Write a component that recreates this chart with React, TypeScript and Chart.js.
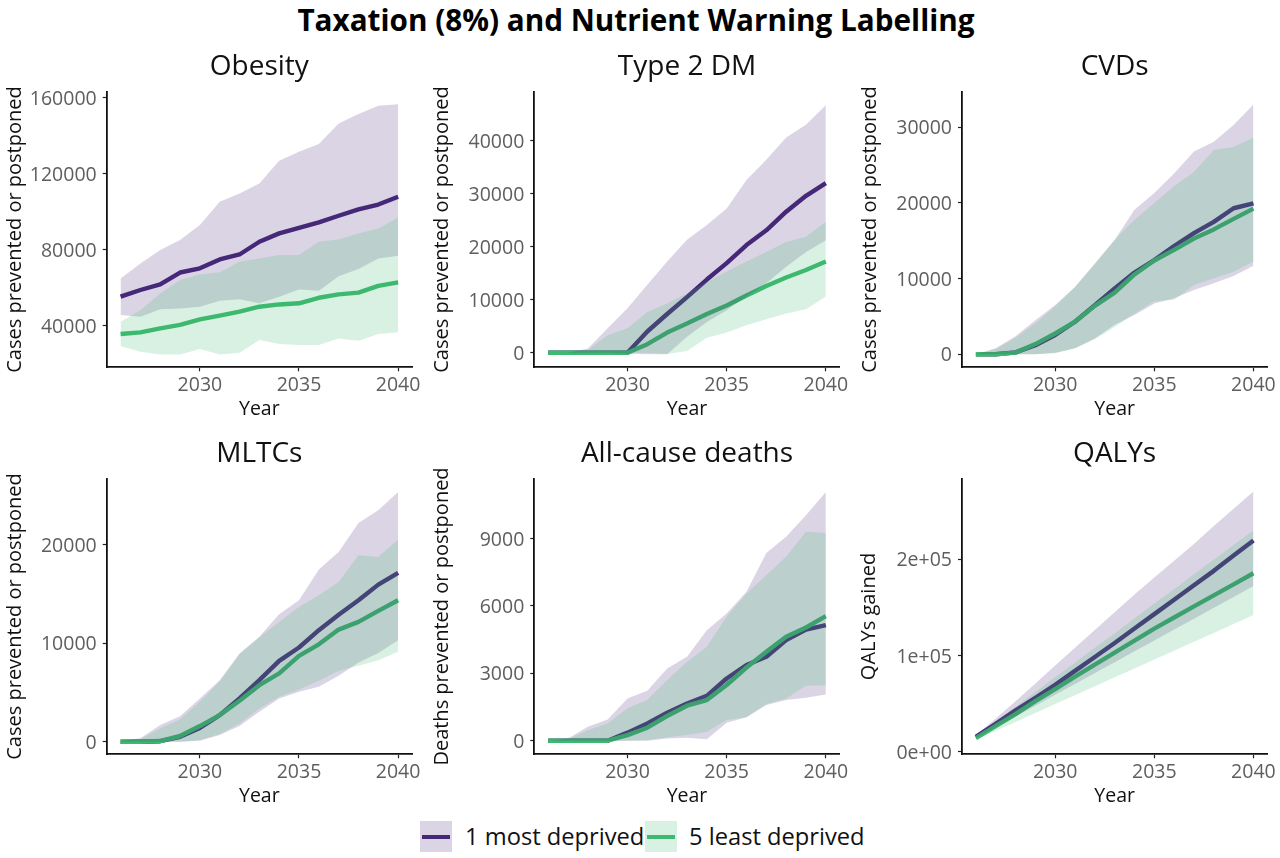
import { useEffect, useRef } from 'react';
import { Chart, registerables } from 'chart.js';

Chart.register(...registerables);

const years = [2026, 2027, 2028, 2029, 2030, 2031, 2032, 2033, 2034, 2035, 2036, 2037, 2038, 2039, 2040];
const yearTicks = [2030, 2035, 2040];

const obesityMost = [55300, 58800, 61750, 68000, 70200, 74900, 77500, 84200, 88600, 91500, 94400, 97900, 101200, 103800, 107900];
const obesityMostLow = [45600, 44700, 48600, 49100, 50000, 53200, 53900, 51800, 55300, 59100, 58400, 66100, 69800, 75400, 76800];
const obesityMostHigh = [64900, 72800, 79800, 85100, 93000, 105200, 109600, 114900, 126800, 131600, 135600, 146500, 151400, 155800, 156600];
const obesityLeast = [35600, 36500, 38600, 40400, 43300, 45300, 47400, 50000, 51200, 51800, 54700, 56500, 57400, 61000, 62800];
const obesityLeastLow = [29300, 26300, 24900, 24900, 27700, 24900, 25800, 32500, 30400, 29800, 29800, 33300, 32100, 35600, 36500];
const obesityLeastHigh = [42100, 48200, 57000, 64000, 67000, 68100, 73700, 75400, 77200, 77200, 84200, 85400, 88600, 91200, 97000];
const obesityTicks = [40000, 80000, 120000, 160000];

const dmMost = [0, 0, 0, 0, 0, 4000, 7300, 10500, 13800, 16900, 20300, 23100, 26600, 29600, 32000];
const dmMostLow = [0, 0, 0, 0, -200, -300, -300, 3000, 5800, 8000, 10600, 13100, 16200, 19000, 21200];
const dmMostHigh = [0, 0, 800, 4600, 8400, 12800, 17200, 21300, 24100, 27200, 32600, 36400, 40600, 43000, 46700];
const dmLeast = [0, 0, 0, 0, 0, 1600, 3800, 5500, 7300, 8900, 10800, 12600, 14200, 15600, 17200];
const dmLeastLow = [0, 0, 0, 0, 0, 0, -250, 300, 2800, 3800, 5200, 6300, 7400, 8200, 10600];
const dmLeastHigh = [0, 0, 500, 3300, 4600, 7700, 9300, 11200, 13400, 15300, 17200, 19000, 20900, 21900, 24700];
const dmTicks = [0, 10000, 20000, 30000, 40000];

const cvdMost = [0, 0, 260, 1200, 2550, 4300, 6500, 8700, 10800, 12450, 14300, 16000, 17500, 19300, 19950];
const cvdMostLow = [0, 0, 0, 0, 200, 800, 2100, 3900, 5200, 6700, 7400, 8500, 9400, 10350, 11700];
const cvdMostHigh = [0, 800, 2400, 4500, 6500, 8900, 12000, 15100, 19100, 21300, 23900, 26800, 28100, 30300, 33000];
const cvdLeast = [0, 0, 220, 1350, 2750, 4300, 6400, 8150, 10550, 12400, 13800, 15300, 16500, 17900, 19250];
const cvdLeastLow = [0, 0, 0, 0, 130, 800, 2000, 3600, 5400, 7000, 7200, 9160, 10050, 10900, 12250];
const cvdLeastHigh = [0, 660, 2200, 4100, 6300, 8900, 11900, 15100, 17750, 20000, 22200, 24100, 27000, 27400, 28600];
const cvdTicks = [0, 10000, 20000, 30000];

const mltcMost = [0, 0, 50, 500, 1400, 2700, 4400, 6260, 8220, 9580, 11340, 12900, 14380, 15970, 17160];
const mltcMostLow = [0, 0, 0, 0, 100, 680, 1590, 3050, 4400, 5080, 5580, 6700, 8050, 9030, 10320];
const mltcMostHigh = [50, 340, 1700, 2600, 4400, 6260, 8970, 10660, 12960, 14380, 17500, 19290, 22230, 23520, 25380];
const mltcLeast = [0, 0, 70, 580, 1590, 2700, 4160, 5750, 6940, 8730, 9900, 11400, 12180, 13300, 14380];
const mltcLeastLow = [0, 0, 0, 0, 170, 780, 1860, 3380, 4570, 5310, 6190, 7210, 7720, 8290, 9140];
const mltcLeastHigh = [30, 240, 1350, 2270, 4060, 6090, 8900, 10590, 12180, 13700, 14890, 16240, 18950, 18780, 20540];
const mltcTicks = [0, 10000, 20000];

const deathsMost = [0, 0, 0, 0, 360, 770, 1250, 1660, 2000, 2770, 3370, 3740, 4480, 4950, 5150];
const deathsMostLow = [0, 0, 0, 0, 0, 0, 100, 130, 60, 800, 1040, 1590, 1810, 1910, 2060];
const deathsMostHigh = [0, 100, 620, 950, 1880, 2220, 3220, 3740, 4920, 5670, 6630, 8360, 9080, 10040, 11080];
const deathsLeast = [0, 0, 0, 0, 250, 580, 1100, 1560, 1810, 2480, 3260, 3960, 4630, 5040, 5550];
const deathsLeastLow = [0, 0, 0, 0, 0, 30, 150, 250, 400, 920, 1040, 1630, 1880, 2450, 2480];
const deathsLeastHigh = [0, 60, 470, 770, 1440, 1810, 2700, 3510, 4180, 5520, 6550, 7370, 8190, 9300, 9250];
const deathsTicks = [0, 3000, 6000, 9000];

const qalyMost = [15500, 29000, 43000, 56000, 69500, 84000, 98500, 113000, 128000, 143000, 158000, 173000, 188000, 204000, 219500];
const qalyMostLow = [14000, 25300, 36600, 47900, 59200, 70500, 81800, 93100, 104400, 115700, 127000, 138300, 149600, 160900, 172200];
const qalyMostHigh = [17000, 34500, 52500, 71000, 89500, 108000, 126500, 145000, 163500, 181000, 198500, 216000, 234500, 252500, 270500];
const qalyLeast = [14000, 26500, 39000, 52500, 65000, 78000, 90500, 103000, 115500, 128000, 139500, 151000, 162500, 174000, 185500];
const qalyLeastLow = [12500, 21800, 31000, 40300, 49500, 58800, 68000, 77300, 86500, 95800, 105000, 114300, 123500, 132800, 142000];
const qalyLeastHigh = [16500, 31500, 46500, 62000, 77500, 92500, 108000, 123000, 138500, 154000, 169000, 184500, 199500, 215000, 230000];
const qalyTicks = [0, 100000, 200000];
const qalyTickLabels = ['0e+00', '1e+05', '2e+05'];

const MOST = '#46287a';
const LEAST = '#3dba6f';
const MOST_FILL = 'rgba(70,40,122,0.2)';
const LEAST_FILL = 'rgba(61,186,111,0.2)';
const FONT = '"Open Sans"';

const pts = (vals: number[]) => vals.map((y, i) => ({ x: years[i], y }));

function Panel({ p }: { p: any }) {
  const canvasRef = useRef<HTMLCanvasElement>(null);

  useEffect(() => {
    if (!canvasRef.current) return;

    const ribbon = (low: number[], high: number[], color: string, order: number) => [
      { data: pts(low), borderWidth: 0, pointRadius: 0, fill: false, order: order + 1 },
      { data: pts(high), borderWidth: 0, pointRadius: 0, backgroundColor: color, fill: '-1', order },
    ];
    const line = (vals: number[], color: string, order: number) => ({
      data: pts(vals), borderColor: color, borderWidth: 4.4, pointRadius: 0, fill: false, order,
      borderCapStyle: 'butt', borderJoinStyle: 'round',
    });

    // lines go under the ribbons, so each line picks up the other group's tint
    const chart = new Chart(canvasRef.current, {
      type: 'line',
      data: {
        datasets: [
          line(p.most[0], MOST, 8),
          line(p.least[0], LEAST, 7),
          ...ribbon(p.most[1], p.most[2], MOST_FILL, 4),
          ...ribbon(p.least[1], p.least[2], LEAST_FILL, 1),
        ],
      },
      options: {
        animation: false,
        responsive: false,
        layout: { padding: { left: 0, top: 0, right: p.padRight, bottom: 0 } },
        plugins: {
          legend: { display: false },
          tooltip: { enabled: false },
          filler: { drawTime: 'beforeDatasetDraw' },
          title: {
            display: true,
            text: p.title,
            fullSize: false,
            color: '#111',
            font: { family: FONT, size: 28, weight: 'normal' },
            padding: { top: 10.2, bottom: 7.9 },
          },
        },
        scales: {
          x: {
            type: 'linear',
            min: 2025.3,
            max: 2040.7,
            afterBuildTicks: (s: any) => { s.ticks = yearTicks.map(value => ({ value })); },
            afterFit: (s: any) => { s.height = 60.7; },
            border: { color: '#111', width: 1.8 },
            grid: { drawOnChartArea: false, tickLength: 4, tickColor: '#222', tickWidth: 1.2 },
            ticks: {
              autoSkip: false, maxRotation: 0, padding: 2, color: '#5e5e5e',
              font: { family: FONT, size: 19.5 },
              callback: (v: any) => String(v),
            },
            title: {
              display: true, text: 'Year', color: '#111',
              font: { family: FONT, size: 19.5 },
              padding: { top: 0, bottom: 7 },
            },
          },
          y: {
            min: p.yMin,
            max: p.yMax,
            afterBuildTicks: (s: any) => { s.ticks = p.ticks.map((value: number) => ({ value })); },
            afterFit: (s: any) => { s.width = p.axisWidth; },
            border: { color: '#111', width: 1.8 },
            grid: { drawOnChartArea: false, tickLength: 4, tickColor: '#222', tickWidth: 1.2 },
            ticks: {
              autoSkip: false, padding: 6, labelOffset: 1.5, color: '#5e5e5e',
              font: { family: FONT, size: 19.5 },
              callback: (v: any) => (p.tickLabels ? p.tickLabels[p.ticks.indexOf(v)] : String(v)),
            },
            title: {
              display: true, text: p.yTitle, color: '#111',
              font: { family: FONT, size: 20 },
              padding: { top: p.yTitlePad, bottom: 0 },
            },
          },
        },
      },
    } as any);

    return () => { chart.destroy(); };
  }, [p]);

  return (
    <canvas
      ref={canvasRef}
      width={p.width}
      height={388}
      style={{ position: 'absolute', left: p.left, top: p.top, width: p.width, height: 388 }}
    />
  );
}

const CASES = 'Cases prevented or postponed';

const panels = [
  { title: 'Obesity', yTitle: CASES, yMin: 18100, yMax: 163200, ticks: obesityTicks, most: [obesityMost, obesityMostLow, obesityMostHigh], least: [obesityLeast, obesityLeastLow, obesityLeastHigh], left: 0, top: 40, width: 428, axisWidth: 106.7, padRight: 16, yTitlePad: 3.5 },
  { title: 'Type 2 DM', yTitle: CASES, yMin: -2755, yMax: 49245, ticks: dmTicks, most: [dmMost, dmMostLow, dmMostHigh], least: [dmLeast, dmLeastLow, dmLeastHigh], left: 428, top: 40, width: 425, axisWidth: 106.3, padRight: 13.3, yTitlePad: 2 },
  { title: 'CVDs', yTitle: CASES, yMin: -1718, yMax: 34700, ticks: cvdTicks, most: [cvdMost, cvdMostLow, cvdMostHigh], least: [cvdLeast, cvdLeastLow, cvdLeastHigh], left: 855, top: 40, width: 425, axisWidth: 107, padRight: 12.7, yTitlePad: 3.5 },
  { title: 'MLTCs', yTitle: CASES, yMin: -1280, yMax: 26740, ticks: mltcTicks, most: [mltcMost, mltcMostLow, mltcMostHigh], least: [mltcLeast, mltcLeastLow, mltcLeastHigh], left: 0, top: 427, width: 428, axisWidth: 106.7, padRight: 16, yTitlePad: 3.5 },
  { title: 'All-cause deaths', yTitle: 'Deaths prevented or postponed', yMin: -605, yMax: 11667, ticks: deathsTicks, most: [deathsMost, deathsMostLow, deathsMostHigh], least: [deathsLeast, deathsLeastLow, deathsLeastHigh], left: 428, top: 427, width: 425, axisWidth: 106.3, padRight: 13.3, yTitlePad: 2 },
  { title: 'QALYs', yTitle: 'QALYs gained', yMin: -2700, yMax: 283800, ticks: qalyTicks, tickLabels: qalyTickLabels, most: [qalyMost, qalyMostLow, qalyMostHigh], least: [qalyLeast, qalyLeastLow, qalyLeastHigh], left: 855, top: 427, width: 425, axisWidth: 107, padRight: 12.7, yTitlePad: 2 },
];

function LegendKey({ left, fill, color }: { left: number; fill: string; color: string }) {
  return (
    <div style={{ position: 'absolute', left, top: 821, width: 32, height: 31, background: fill }}>
      <div style={{ position: 'absolute', left: 2, top: 14, width: 28, height: 4, background: color }} />
    </div>
  );
}

const legendText = { position: 'absolute', top: 820, fontFamily: FONT, fontSize: 23.7, lineHeight: '33px', color: '#111', whiteSpace: 'nowrap' } as const;

export default function App() {
  return (
    <div style={{ position: 'absolute', left: 0, top: 0, width: 1280, height: 858, background: '#fff', overflow: 'hidden' }}>
      <div style={{ position: 'absolute', left: 0, top: 0, width: 1272, textAlign: 'center', fontFamily: FONT, fontWeight: 700, fontSize: 29.7, lineHeight: '39px', color: '#000' }}>
        Taxation (8%) and Nutrient Warning Labelling
      </div>
      {panels.map(p => <Panel key={p.title} p={p} />)}
      <LegendKey left={420} fill="#dad4e4" color={MOST} />
      <div style={{ ...legendText, left: 465 }}>1 most deprived</div>
      <LegendKey left={645} fill="#d8f1e2" color={LEAST} />
      <div style={{ ...legendText, left: 689 }}>5 least deprived</div>
    </div>
  );
}
